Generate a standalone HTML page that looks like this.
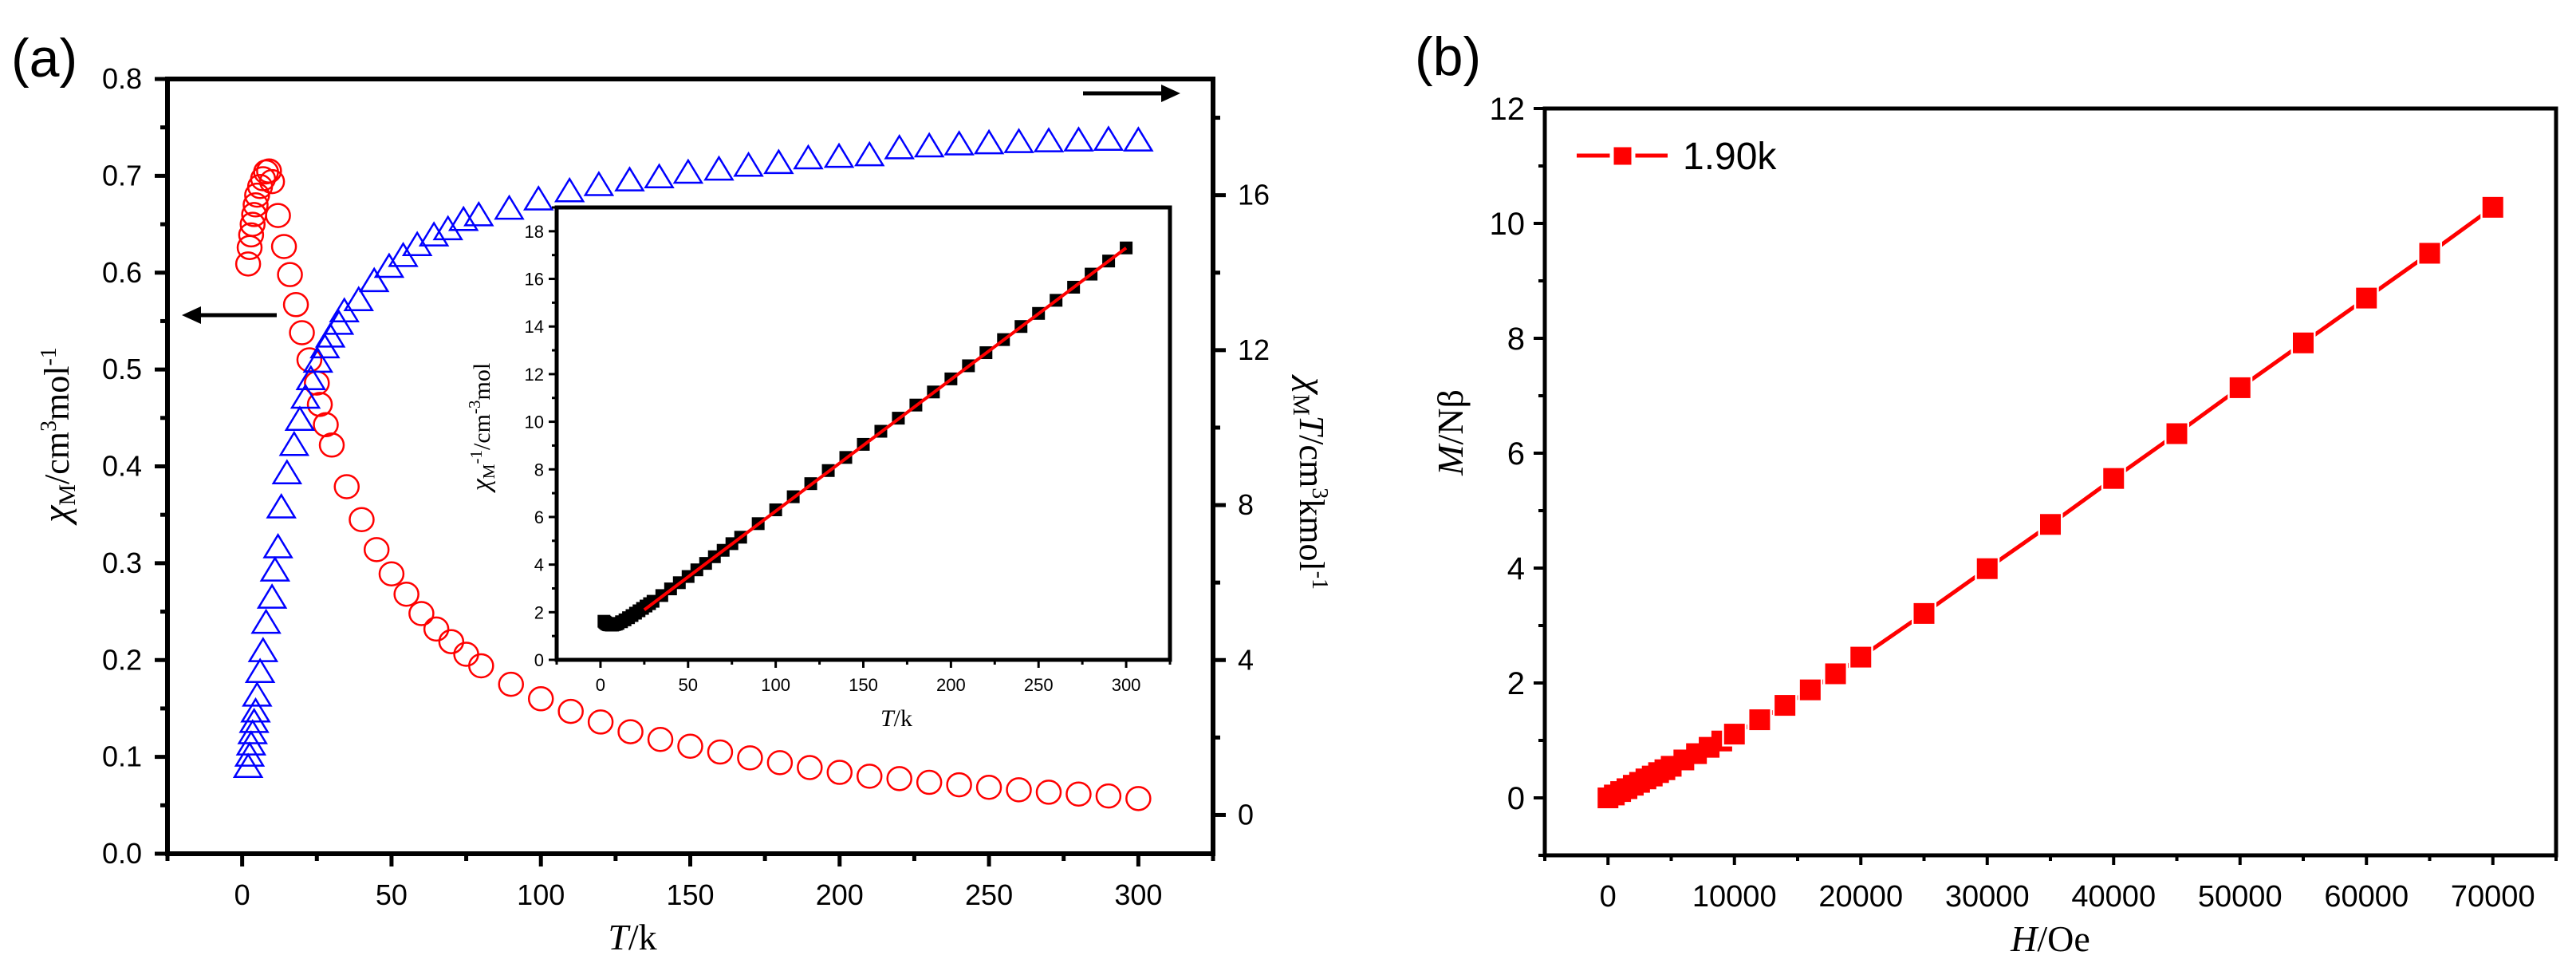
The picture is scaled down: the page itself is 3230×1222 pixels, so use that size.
<!DOCTYPE html>
<html><head><meta charset="utf-8"><style>
html,body{margin:0;padding:0;background:#fff;}
svg{display:block;}
text{font-family:"Liberation Sans",sans-serif;}
.serif{font-family:"Liberation Serif",serif;}
.narrow{font-family:"Liberation Sans Narrow","Liberation Sans",sans-serif;}
</style></head><body>
<svg id="fig" width="3230" height="1222" viewBox="0 0 3230 1222" xmlns="http://www.w3.org/2000/svg">
<rect width="3230" height="1222" fill="#fff"/>
<g id="pa"></g>
<g id="pb"></g>
<text x="14" y="96" font-size="68">(a)</text>
<text x="1774" y="94" font-size="68">(b)</text>
<text class="serif" font-size="44" transform="translate(86,545) rotate(-90)" text-anchor="middle"><tspan font-style="italic" font-size="48">χ</tspan><tspan font-size="30" dy="8">M</tspan><tspan dy="-8">/cm</tspan><tspan font-size="28" dy="-16">3</tspan><tspan dy="16">mol</tspan><tspan font-size="28" dy="-16">-1</tspan></text>
<text class="serif" font-size="44" transform="translate(1630,606) rotate(90)" text-anchor="middle"><tspan font-style="italic" font-size="48">χ</tspan><tspan font-size="30" dy="8">M</tspan><tspan dy="-8" font-style="italic">T</tspan><tspan>/cm</tspan><tspan font-size="28" dy="-16">3</tspan><tspan dy="16">kmol</tspan><tspan font-size="28" dy="-16">-1</tspan></text>
<text class="serif" x="793" y="1190" font-size="46" text-anchor="middle"><tspan font-style="italic">T</tspan>/k</text>
<text class="serif" x="1124" y="910" font-size="30" text-anchor="middle"><tspan font-style="italic">T</tspan>/k</text>
<text class="serif" font-size="30" transform="translate(614,535) rotate(-90)" text-anchor="middle"><tspan font-style="italic" font-size="34">χ</tspan><tspan font-size="21" dy="6">M</tspan><tspan font-size="21" dy="-16">-1</tspan><tspan dy="10">/cm</tspan><tspan font-size="21" dy="-12">-3</tspan><tspan dy="12">mol</tspan></text>
<text class="serif" font-size="46" transform="translate(1834,542) rotate(-90)" text-anchor="middle"><tspan font-style="italic">M</tspan>/Nβ</text>
<text class="serif" x="2571" y="1192" font-size="46" text-anchor="middle"><tspan font-style="italic">H</tspan>/Oe</text>
<g><line x1="347" y1="395" x2="245" y2="395" stroke="#000" stroke-width="5"/><polygon points="228,395 252,384 252,406" fill="#000"/></g>
<g><line x1="1358" y1="117" x2="1462" y2="117" stroke="#000" stroke-width="5"/><polygon points="1480,117 1456,106 1456,128" fill="#000"/></g>
<g><line x1="1977" y1="195" x2="2091" y2="195" stroke="#f00" stroke-width="5"/><rect x="2021" y="182" width="27" height="27" fill="#f00" stroke="#fff" stroke-width="5"/><text x="2110" y="212" font-size="48">1.90k</text></g>
</svg>
<script>
// ---- Panel (a) data ----
const chiT = [2,2.5,3,3.5,4,4.5,5,6,7,8,9,10,12,14,16,18,20,22.5,25,26,28,30,35,40,45,50,55,60,65,70,75,80,90,100,110,120,130,140,150,160,170,180,190,200,210,220,230,240,250,260,270,280,290,300];
const chiM = [0.609,0.626,0.639,0.650,0.660,0.670,0.680,0.689,0.697,0.704,0.705,0.694,0.659,0.627,0.598,0.567,0.538,0.510,0.486,0.464,0.443,0.422,0.379,0.345,0.314,0.289,0.268,0.248,0.232,0.219,0.206,0.194,0.175,0.160,0.147,0.136,0.126,0.118,0.111,0.105,0.099,0.094,0.089,0.084,0.080,0.0776,0.0737,0.0712,0.0686,0.066,0.0635,0.0616,0.0596,0.057];
const chiTT_T = [2,2.5,3,3.5,4,4.5,5,6,7,8,10,11,12,13.1,15,17.4,19.3,21.2,23,25.4,27.7,29.5,32.4,34.2,39,44.2,49.2,53.9,58.6,64.2,68.9,74.1,79.2,89.4,99.2,109.6,119.4,129.7,139.6,149.3,159.6,169.5,179.6,189.5,199.8,210,220,230,240,250,260,270,280,290,300];
const chiTT = [1.23,1.52,1.81,2.10,2.39,2.66,3.07,3.68,4.22,4.95,5.6,6.3,6.9,7.93,8.81,9.54,10.19,10.76,11.24,11.69,12.06,12.34,12.67,12.99,13.28,13.77,14.14,14.42,14.70,14.95,15.11,15.35,15.47,15.64,15.88,16.09,16.25,16.37,16.45,16.57,16.65,16.75,16.82,16.94,16.98,17.02,17.2,17.25,17.3,17.33,17.36,17.38,17.4,17.42,17.40];
const invT = [2,2.5,3,3.5,4,4.5,5,6,7,8,9,10,12,14,16,18,20,22,24,26,28,30,35,40,45,50,55,60,65,70,75,80,90,100,110,120,130,140,150,160,170,180,190,200,210,220,230,240,250,260,270,280,290,300];
const invChi = [1.62,1.58,1.55,1.52,1.50,1.48,1.47,1.46,1.46,1.48,1.50,1.53,1.60,1.68,1.77,1.86,1.96,2.06,2.16,2.26,2.36,2.46,2.70,2.98,3.24,3.50,3.78,4.05,4.33,4.60,4.88,5.15,5.72,6.30,6.85,7.40,7.95,8.50,9.05,9.60,10.15,10.70,11.25,11.80,12.35,12.90,13.45,14.00,14.55,15.10,15.65,16.20,16.75,17.30];
const fitT = [25,300];
const fitV = [2.1,17.3];
const aXTicks = [0,50,100,150,200,250,300];
const aYTicks = ['0.0','0.1','0.2','0.3','0.4','0.5','0.6','0.7','0.8'];
const aRTicks = [0,4,8,12,16];
const inYTicks = [0,2,4,6,8,10,12,14,16,18];
const inXTicks = [0,50,100,150,200,250,300];
// ---- Panel (b) data ----
const fieldH = [0,500,1000,1500,2000,2500,3000,3500,4000,4500,5000,6000,7000,8000,9000,10000,12000,14000,16000,18000,20000,25000,30000,35000,40000,45000,50000,55000,60000,65000,70000];
const magM = [0,0.05,0.11,0.16,0.22,0.27,0.33,0.38,0.44,0.49,0.55,0.66,0.77,0.88,0.99,1.11,1.36,1.61,1.88,2.16,2.45,3.21,3.99,4.76,5.56,6.34,7.14,7.92,8.70,9.48,10.28];
const bXTicks = [0,10000,20000,30000,40000,50000,60000,70000];
const bYTicks = [0,2,4,6,8,10,12];

const NS='http://www.w3.org/2000/svg';
function mk(parent,tag,attrs){const e=document.createElementNS(NS,tag);for(const k in attrs)e.setAttribute(k,attrs[k]);parent.appendChild(e);return e;}
function lin(d0,d1,r0,r1){return v=>r0+(v-d0)*(r1-r0)/(d1-d0);}

const pa=document.getElementById('pa');
const pb=document.getElementById('pb');
const ax=lin(-25,325,210,1521), ay=lin(0,0.8,1070,99), ar=lin(-1,19,1070,99);
const ix=lin(-25,325,698,1467), iy=lin(0,19,827,260);
const bx=lin(-5000,75000,1937,3205), by=lin(-1,12,1072,136);

let f=mk(pa,'rect',{x:210,y:99,width:1311,height:971,fill:'none',stroke:'#000','stroke-width':6});


for(let v=-25; v<=325; v+=25){const major=(v%50===0);const t=mk(pa,'line',{x1:ax(v),x2:ax(v),y1:1070,y2:1070+(major?16:9),stroke:'#000','stroke-width':5});

}
aXTicks.forEach(v=>{const t=mk(pa,'text',{x:ax(v),y:1134,'font-size':36,'text-anchor':'middle',class:'narrow'});t.textContent=v;

});
for(let i=0;i<=16;i++){const v=i*0.05;const major=i%2===0;const t=mk(pa,'line',{x1:210-(major?16:9),x2:210,y1:ay(v),y2:ay(v),stroke:'#000','stroke-width':5});

}
aYTicks.forEach(s=>{const t=mk(pa,'text',{x:178,y:ay(parseFloat(s))+12,'font-size':36,'text-anchor':'end',class:'narrow'});t.textContent=s;

});
for(let v=0;v<=18;v+=2){const major=v%4===0;const t=mk(pa,'line',{x1:1521,x2:1521+(major?16:9),y1:ar(v),y2:ar(v),stroke:'#000','stroke-width':5});

}
aRTicks.forEach(v=>{const t=mk(pa,'text',{x:1552,y:ar(v)+12,'font-size':36});t.textContent=v;

});
const gc=mk(pa,'g',{fill:'none',stroke:'#f00','stroke-width':2.5});


chiT.forEach((t,i)=>{const c=mk(gc,'ellipse',{cx:ax(t),cy:ay(chiM[i]),rx:15,ry:14.5});

});
const gt=mk(pa,'g',{fill:'none',stroke:'#00f','stroke-width':2.5});


chiTT_T.forEach((t,i)=>{const x=ax(t),y=ar(chiTT[i]);const p=mk(gt,'polygon',{points:`${x-17},${y+12} ${x+17},${y+12} ${x},${y-16}`});

});
const gi=mk(pa,'g',{});


const ib=mk(gi,'rect',{x:698,y:260,width:769,height:567,fill:'#fff',stroke:'#000','stroke-width':5});


for(let v=-25;v<=325;v+=25){const major=v%50===0;const t=mk(gi,'line',{x1:ix(v),x2:ix(v),y1:827,y2:827+(major?10:6),stroke:'#000','stroke-width':3});

}
inXTicks.forEach(v=>{const t=mk(gi,'text',{x:ix(v),y:866,'font-size':22,'text-anchor':'middle',class:'narrow'});t.textContent=v;

});
for(let v=0;v<=19;v+=1){const major=v%2===0;const t=mk(gi,'line',{x1:698-(major?10:6),x2:698,y1:iy(v),y2:iy(v),stroke:'#000','stroke-width':3});

}
inYTicks.forEach(v=>{const t=mk(gi,'text',{x:682,y:iy(v)+8,'font-size':22,'text-anchor':'end',class:'narrow'});t.textContent=v;

});
invT.forEach((t,i)=>{const r=mk(gi,'rect',{x:ix(t)-8,y:iy(invChi[i])-8,width:16,height:16,fill:'#000'});

});
const fl=mk(gi,'line',{x1:ix(fitT[0]),y1:iy(fitV[0]),x2:ix(fitT[1]),y2:iy(fitV[1]),stroke:'#f00','stroke-width':4});



const fb=mk(pb,'rect',{x:1937,y:136,width:1268,height:936,fill:'none',stroke:'#000','stroke-width':5});


for(let v=-5000;v<=75000;v+=5000){const major=v%10000===0;const t=mk(pb,'line',{x1:bx(v),x2:bx(v),y1:1072,y2:1072+(major?12:7),stroke:'#000','stroke-width':4});

}
bXTicks.forEach(v=>{const t=mk(pb,'text',{x:bx(v),y:1136,'font-size':38,'text-anchor':'middle'});t.textContent=v;

});
for(let v=-1;v<=12;v+=1){const major=v%2===0;const t=mk(pb,'line',{x1:1937-(major?14:8),x2:1937,y1:by(v),y2:by(v),stroke:'#000','stroke-width':4});

}
bYTicks.forEach(v=>{const t=mk(pb,'text',{x:1912,y:by(v)+14,'font-size':40,'text-anchor':'end'});t.textContent=v;

});
const pl=mk(pb,'polyline',{points:fieldH.map((h,i)=>bx(h)+','+by(magM[i])).join(' '),fill:'none',stroke:'#f00','stroke-width':5});


fieldH.forEach((h,i)=>{const r=mk(pb,'rect',{x:bx(h)-13,y:by(magM[i])-13,width:26,height:26,fill:'#f00',stroke:(h>=10000?'#fff':'none'),'stroke-width':5,'paint-order':'stroke'});

});
</script>
</body></html>
